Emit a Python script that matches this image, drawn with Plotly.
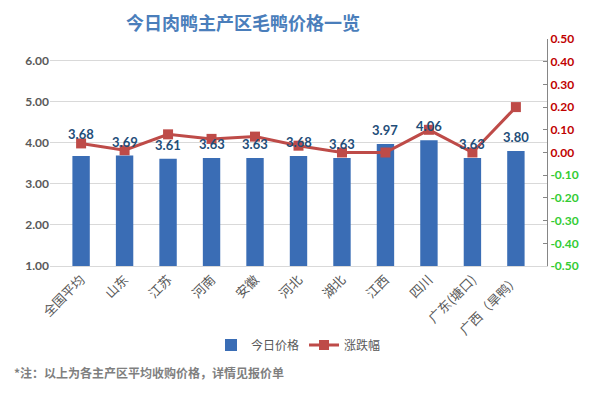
import plotly.graph_objects as go

categories = ["全国平均", "山东", "江苏", "河南", "安徽", "河北", "湖北", "江西", "四川", "广东(塘口)", "广西（旱鸭）"]
prices = [3.68, 3.69, 3.61, 3.63, 3.63, 3.68, 3.63, 3.97, 4.06, 3.63, 3.80]
changes = [0.04, 0.01, 0.08, 0.06, 0.07, 0.03, 0.00, 0.00, 0.10, 0.00, 0.20]
left_ticks = [1, 2, 3, 4, 5, 6]
right_ticks = [0.5, 0.4, 0.3, 0.2, 0.1, 0.0, -0.1, -0.2, -0.3, -0.4, -0.5]

FONT = "Noto Sans CJK SC"
NUM_FONT = "Lato, Noto Sans CJK SC"
BAR_COLOR = "#3a6db5"
LINE_COLOR = "#be4b48"

fig = go.Figure()
fig.add_trace(go.Bar(
    x=categories, y=prices, name="今日价格",
    marker=dict(color=BAR_COLOR, line=dict(width=0)),
    width=0.4, yaxis="y",
))
fig.add_trace(go.Scatter(
    x=categories, y=changes, name="涨跌幅", yaxis="y2",
    mode="lines+markers",
    line=dict(color=LINE_COLOR, width=3),
    marker=dict(symbol="square", size=10, color=LINE_COLOR),
))

annotations = []
for i, (c, p) in enumerate(zip(categories, prices)):
    annotations.append(dict(
        x=c, y=p, xref="x", yref="y", text=f"<b>{p:.2f}</b>", showarrow=False,
        yshift=22 if i == 0 else 14,
        font=dict(family=NUM_FONT, size=13, color="#1f4e79"),
    ))
annotations.append(dict(
    x=-0.076, y=-0.467, xref="paper", yref="paper", xanchor="left", yanchor="middle",
    text="<b>*注：以上为各主产区平均收购价格，详情见报价单</b>", showarrow=False,
    font=dict(family=FONT, size=12, color="#7f7f7f"),
))

def rcol(v):
    return "#c00000" if v >= 0 else "#33cc33"

fig.update_layout(
    width=591, height=393,
    margin=dict(l=50, r=41, t=39, b=127),
    paper_bgcolor="white", plot_bgcolor="white",
    font=dict(family=FONT, color="#595959"),
    title=dict(text="<b>今日肉鸭主产区毛鸭价格一览</b>", x=0.411, xanchor="center",
               y=0.94, yanchor="middle", yref="container",
               font=dict(family=FONT, size=18, color="#4a7ebb")),
    xaxis=dict(tickangle=-45, tickfont=dict(family=FONT, size=13, color="#595959"),
               showline=True, linecolor="#d9d9d9", linewidth=1, ticks="", showgrid=False),
    yaxis=dict(range=[1, 6.527], tickvals=left_ticks, ticktext=[f"<b>{v:.2f}</b>" for v in left_ticks],
               tickfont=dict(family=NUM_FONT, size=12, color="#595959"),
               showgrid=True, gridcolor="#d9d9d9", gridwidth=1, zeroline=False, showline=False),
    yaxis2=dict(range=[-0.5, 0.5], overlaying="y", side="right",
                tickvals=right_ticks,
                ticktext=[f'<span style="color:{rcol(v)}"><b>{v:.2f}</b></span>' for v in right_ticks],
                tickfont=dict(family=NUM_FONT, size=12),
                showgrid=False, zeroline=False, showline=True, linecolor="#868686",
                ticks="inside", ticklen=4, tickcolor="#868686"),
    legend=dict(orientation="h", x=0.5, xanchor="center", y=-0.348, yanchor="middle",
                font=dict(family=FONT, size=12, color="#595959")),
    annotations=annotations,
    showlegend=True,
)

fig.write_html("out.html", config={"displayModeBar": False},
               post_script="document.body.style.margin='0';document.body.style.overflow='hidden';")
